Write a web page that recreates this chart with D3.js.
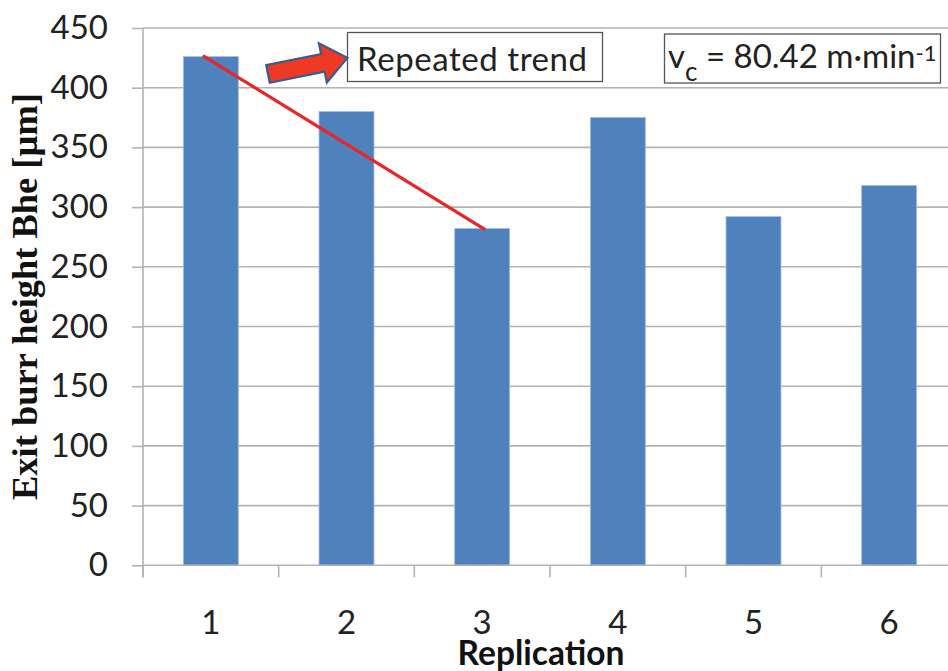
<!DOCTYPE html>
<html>
<head>
<meta charset="utf-8">
<script src="https://cdn.jsdelivr.net/npm/d3@7/dist/d3.min.js"></script>
<style>
  html, body { margin: 0; padding: 0; background: #fff; }
  svg { display: block; }
  .tick-label { font-family: Lato, "Open Sans", sans-serif; fill: #222; }
</style>
</head>
<body>
<svg id="chart" width="948" height="671"></svg>
<script>
// Exit burr height per replication
const categories = ["1", "2", "3", "4", "5", "6"];
const burrHeight = [426, 380, 282, 375, 292, 318];
const yTicks = [0, 50, 100, 150, 200, 250, 300, 350, 400, 450];
// trend annotation spans replications 1 to 3
const trendStart = 0;
const trendEnd = 2;

(function () {
const svg = d3.select("#chart");
const plotLeft = 143, plotRight = 957, plotTop = 28, plotBottom = 565.3;

const x = d3.scaleBand()
  .domain(categories)
  .range([plotLeft, plotRight])
  .paddingInner(0.595)
  .paddingOuter(0.2975);

const y = d3.scaleLinear()
  .domain([0, 450])
  .range([plotBottom, plotTop]);

const gridColor = "#b3b3b3";

// horizontal gridlines
svg.append("g")
  .selectAll("line")
  .data(yTicks.filter(d => d > 0))
  .join("line")
  .attr("x1", plotLeft).attr("x2", 948)
  .attr("y1", d => y(d)).attr("y2", d => y(d))
  .attr("stroke", gridColor)
  .attr("stroke-width", 1.6);

// bars
svg.append("g")
  .selectAll("rect")
  .data(burrHeight)
  .join("rect")
  .attr("x", (d, i) => x(categories[i]))
  .attr("y", d => y(d))
  .attr("width", x.bandwidth())
  .attr("height", d => y(0) - y(d))
  .attr("fill", "#4f81bd")
  .attr("stroke", "#9fbbe0")
  .attr("stroke-width", 0.8);

// y axis
const yAxis = d3.axisLeft(y).tickValues(yTicks).tickSize(11).tickPadding(24);
const gy = svg.append("g").attr("transform", `translate(${plotLeft},0)`).call(yAxis);
gy.select(".domain").attr("stroke", gridColor).attr("stroke-width", 1.6)
  .attr("d", `M0,${plotTop}V${plotBottom + 12}`);
gy.selectAll(".tick line").attr("stroke", gridColor).attr("stroke-width", 1.6);
gy.selectAll(".tick text")
  .attr("class", "tick-label")
  .attr("font-size", 33)
  .attr("font-family", "Lato, 'Open Sans', sans-serif")
  .attr("fill", "#222");

// x axis baseline and category boundary ticks
svg.append("line")
  .attr("x1", plotLeft).attr("x2", 948)
  .attr("y1", y(0)).attr("y2", y(0))
  .attr("stroke", gridColor).attr("stroke-width", 1.6);

svg.append("g")
  .selectAll("line")
  .data(d3.range(categories.length + 1))
  .join("line")
  .attr("x1", i => plotLeft + i * x.step())
  .attr("x2", i => plotLeft + i * x.step())
  .attr("y1", y(0)).attr("y2", y(0) + 12)
  .attr("stroke", gridColor).attr("stroke-width", 1.6);

svg.append("g")
  .selectAll("text")
  .data(categories)
  .join("text")
  .attr("class", "tick-label")
  .attr("x", d => x(d) + x.bandwidth() / 2)
  .attr("y", 634)
  .attr("text-anchor", "middle")
  .attr("font-size", 33)
  .text(d => d);

// axis titles
svg.append("text")
  .attr("x", 541).attr("y", 665)
  .attr("text-anchor", "middle")
  .attr("font-family", "Lato, 'Open Sans', sans-serif")
  .attr("font-weight", "bold")
  .attr("font-size", 33.5)
  .attr("fill", "#111")
  .text("Replication");

svg.append("text")
  .attr("transform", "translate(37,296.5) rotate(-90)")
  .attr("text-anchor", "middle")
  .attr("font-family", "'Liberation Serif', 'Times New Roman', serif")
  .attr("font-weight", "bold")
  .attr("font-size", 36)
  .attr("textLength", 407)
  .attr("lengthAdjust", "spacingAndGlyphs")
  .attr("fill", "#111")
  .text("Exit burr height Bhe [µm]");

// red trend line from replication 1 to replication 3
const bandMid = i => x(categories[i]) + x.bandwidth() / 2;
svg.append("line")
  .attr("x1", bandMid(trendStart) - 8)
  .attr("y1", y(burrHeight[trendStart]) - 1)
  .attr("x2", bandMid(trendEnd) + 3)
  .attr("y2", y(burrHeight[trendEnd]) + 1)
  .attr("stroke", "#e8262a")
  .attr("stroke-width", 3.3);

// "Repeated trend" label box
svg.append("rect")
  .attr("x", 347.5).attr("y", 32.5)
  .attr("width", 255).attr("height", 49)
  .attr("fill", "#fff")
  .attr("stroke", "#555").attr("stroke-width", 1.3);
svg.append("text")
  .attr("class", "tick-label")
  .attr("x", 357).attr("y", 70.5)
  .attr("font-size", 33)
  .attr("textLength", 230)
  .attr("lengthAdjust", "spacing")
  .text("Repeated trend");

// block arrow pointing at the label
const arrow = svg.append("g")
  .attr("transform", "translate(268,74) rotate(-11.5)");
arrow.append("path")
  .attr("d", "M0,-9 L56,-9 L56,-20 L81,0 L56,20 L56,9 L0,9 Z")
  .attr("fill", "#ee3a24")
  .attr("stroke", "#3b5c8f")
  .attr("stroke-width", 2.2)
  .attr("stroke-linejoin", "miter");

// cutting speed label box
svg.append("rect")
  .attr("x", 664.5).attr("y", 34)
  .attr("width", 276).attr("height", 49)
  .attr("fill", "#fff")
  .attr("stroke", "#555").attr("stroke-width", 1.3);
const vc = svg.append("text")
  .attr("class", "tick-label")
  .attr("x", 668).attr("y", 67.5)
  .attr("font-size", 33);
vc.append("tspan").text("v");
vc.append("tspan").attr("font-size", 26).attr("dy", 13).text("c");
vc.append("tspan").attr("dy", -13).text(" = 80.42 m·min");
vc.append("tspan").attr("font-size", 22).attr("dy", -6.5).text("-1");
})();
</script>
</body>
</html>
